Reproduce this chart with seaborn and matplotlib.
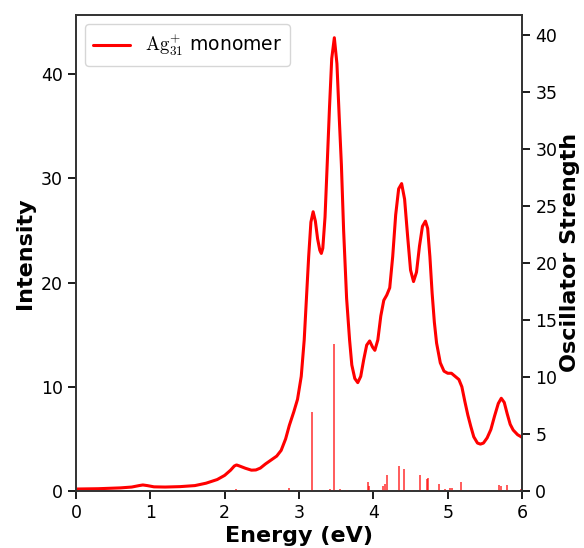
import numpy as np
import pandas as pd
import seaborn as sns
import matplotlib
matplotlib.use("Agg")
import matplotlib.pyplot as plt

# Broadened spectrum
energy = [0.00, 0.30, 0.60, 0.75, 0.85, 0.90, 0.96, 1.05, 1.20, 1.40, 1.60, 1.75,
          1.90, 2.00, 2.08, 2.13, 2.16, 2.20, 2.28, 2.36, 2.42, 2.48, 2.55, 2.62,
          2.70, 2.76, 2.82, 2.87, 2.93, 2.98, 3.03, 3.07, 3.10, 3.13, 3.16, 3.19,
          3.22, 3.25, 3.28, 3.30, 3.32, 3.35, 3.38, 3.41, 3.44, 3.475, 3.51, 3.54,
          3.57, 3.60, 3.64, 3.68, 3.71, 3.75, 3.79, 3.83, 3.87, 3.91, 3.95, 3.99,
          4.02, 4.06, 4.10, 4.14, 4.18, 4.22, 4.26, 4.30, 4.34, 4.38, 4.42, 4.46,
          4.50, 4.54, 4.58, 4.62, 4.66, 4.70, 4.73, 4.76, 4.79, 4.82, 4.85, 4.90,
          4.95, 5.00, 5.05, 5.10, 5.15, 5.19, 5.23, 5.27, 5.31, 5.35, 5.40, 5.44,
          5.48, 5.53, 5.58, 5.63, 5.68, 5.72, 5.76, 5.80, 5.84, 5.88, 5.94, 6.00]
intensity = [0.19, 0.22, 0.30, 0.38, 0.52, 0.58, 0.52, 0.40, 0.38, 0.42, 0.52, 0.75,
             1.1, 1.5, 2.0, 2.4, 2.5, 2.4, 2.18, 2.0, 2.02, 2.2, 2.6, 2.95,
             3.35, 3.9, 5.0, 6.3, 7.6, 8.8, 11.0, 14.5, 18.5, 22.5, 25.8, 26.8,
             25.9, 24.2, 23.1, 22.8, 23.3, 26.3, 31.5, 36.8, 41.5, 43.5, 41.0, 36.0,
             31.3, 25.0, 18.5, 14.5, 12.1, 10.8, 10.4, 11.0, 12.6, 14.0, 14.4, 13.8,
             13.5, 14.5, 16.8, 18.3, 18.8, 19.5, 22.5, 26.5, 29.0, 29.5, 28.0, 24.5,
             21.2, 20.1, 21.0, 23.5, 25.4, 25.9, 25.2, 22.5, 19.0, 16.2, 14.2, 12.3,
             11.5, 11.3, 11.3, 11.0, 10.7, 10.0, 8.6, 7.3, 6.2, 5.2, 4.6, 4.5,
             4.6, 5.1, 5.9, 7.2, 8.4, 8.9, 8.5, 7.4, 6.4, 5.85, 5.4, 5.15]

# Stick spectrum (oscillator strengths)
stick_e = [0.91, 2.15, 2.60, 2.87, 2.97, 3.18, 3.30, 3.42, 3.475, 3.55, 3.65,
           3.93, 3.94, 4.13, 4.15, 4.18, 4.35, 4.41, 4.52, 4.63, 4.72, 4.73,
           4.88, 4.96, 5.03, 5.06, 5.18, 5.27, 5.49, 5.69, 5.71, 5.80, 5.98]
stick_f = [0.05, 0.15, 0.05, 0.29, 0.1, 6.9, 0.1, 0.2, 12.9, 0.15, 0.1,
           0.76, 0.45, 0.4, 0.6, 1.37, 2.2, 1.9, 0.1, 1.37, 1.05, 1.14,
           0.64, 0.15, 0.26, 0.3, 0.82, 0.12, 0.12, 0.5, 0.45, 0.5, 0.18]

sns.set_theme(style="ticks")
plt.rcParams["mathtext.fontset"] = "cm"
plt.rcParams["font.family"] = ["DejaVu Sans"]
plt.rcParams["text.color"] = "black"
plt.rcParams["axes.labelcolor"] = "black"
plt.rcParams["xtick.color"] = "black"
plt.rcParams["ytick.color"] = "black"
plt.rcParams["axes.edgecolor"] = "#333333"

df = pd.DataFrame({"Energy": energy, "Intensity": intensity})

fig = plt.figure(figsize=(5.84, 5.48), dpi=100)
ax = fig.add_axes([0.130, 0.104, 0.764, 0.869])

sns.lineplot(data=df, x="Energy", y="Intensity", ax=ax, color="red", lw=2.2,
             label=r"$\mathrm{Ag}_{31}^{+}$ monomer")
ax.set_xlim(0, 6)
ax.set_ylim(0, 45.7)
ax.set_yticks([0, 10, 20, 30, 40])
ax.set_xlabel("Energy (eV)", fontsize=16, fontweight="bold", labelpad=3)
ax.set_ylabel("Intensity", fontsize=16, fontweight="bold")
ax.tick_params(labelsize=12.5)
ax.legend(loc="upper left", fontsize=13.5, handlelength=2)

# Oscillator strength
ax2 = ax.twinx()
ax2.vlines(stick_e, 0, stick_f, color="red", alpha=0.75, lw=1.2)
ax2.set_ylim(0, 41.8)
ax2.set_yticks(np.arange(0, 41, 5))
ax2.set_ylabel("Oscillator Strength", fontsize=16, fontweight="bold", labelpad=2)
ax2.tick_params(labelsize=12.5)

fig.savefig("out.png", dpi=100)
